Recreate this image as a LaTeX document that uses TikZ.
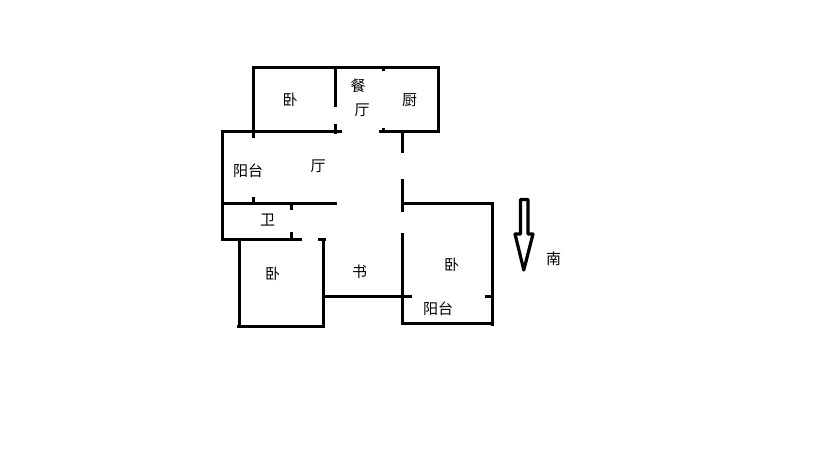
\documentclass[tikz,border=0pt]{standalone}
\usepackage{fontspec}
\newfontfamily\cjk{Noto Sans CJK SC}
\tikzset{
  wall/.style={draw=black,line width=3.2pt,line cap=butt},
  room/.style={font=\cjk\fontsize{15pt}{15pt}\selectfont,text=black,inner sep=0pt}
}
\begin{document}
\begin{tikzpicture}[x=1pt,y=-1pt]
\useasboundingbox[fill=white] (0,0) rectangle (819,460);
% upper block
\draw[wall] (253.5,138) -- (253.5,67.5) -- (438.5,67.5) -- (438.5,131.5) -- (379,131.5);
\draw[wall] (222.5,240) -- (222.5,131.5) -- (342,131.5);
\draw[wall] (335.5,67) -- (335.5,107);
\draw[wall] (335.5,124) -- (335.5,134);
\draw[wall] (383.5,67) -- (383.5,71);
\draw[wall] (383.5,128) -- (383.5,131);
% east wall of hall
\draw[wall] (402.5,131) -- (402.5,153);
\draw[wall] (402.5,179) -- (402.5,212);
\draw[wall] (402.5,233) -- (402.5,323.5) -- (494,323.5);
% hall and bath
\draw[wall] (221,203.5) -- (337,203.5);
\draw[wall] (253.5,197) -- (253.5,203);
\draw[wall] (291.5,203) -- (291.5,210);
\draw[wall] (291.5,232) -- (291.5,240);
\draw[wall] (221,239.5) -- (302,239.5);
\draw[wall] (318,239.5) -- (326,239.5);
% lower-left bedroom
\draw[wall] (239.5,239) -- (239.5,326);
\draw[wall] (237,326.5) -- (325,326.5);
\draw[wall] (323.5,239) -- (323.5,328);
\draw[wall] (324,296.5) -- (412,296.5);
% right bedroom
\draw[wall] (403,203.5) -- (492.5,203.5) -- (492.5,326);
\draw[wall] (485,296.5) -- (492,296.5);
% south arrow
\draw[wall,line join=round] (520.5,234) -- (520.5,199.5) -- (528,199.5) -- (528,234) -- (533,234) -- (523.8,270) -- (515,234) -- cycle;
% labels
\node[room] (bed1) at (290,99.5) {卧};
\node[room] (din1) at (358,85.5) {餐};
\node[room] (din2) at (362,110.5) {厅};
\node[room] (kit) at (409.5,100.5) {厨};
\node[room] (bal1) at (248,170.5) {阳台};
\node[room] (liv) at (318,166.5) {厅};
\node[room] (bath) at (267.5,220.5) {卫};
\node[room] (bed2) at (272.5,273.5) {卧};
\node[room] (study) at (359.5,271.5) {书};
\node[room] (bed3) at (451.5,264.5) {卧};
\node[room] (bal2) at (438,308.5) {阳台};
\node[room] (south) at (553.5,258.5) {南};
\end{tikzpicture}
\end{document}
